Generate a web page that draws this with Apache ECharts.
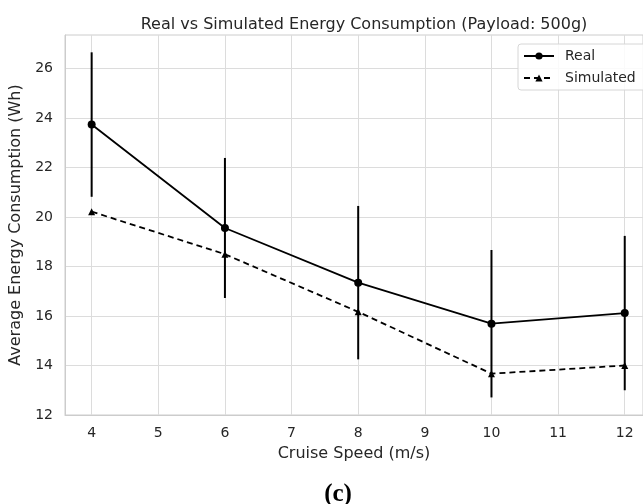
<!DOCTYPE html>
<html>
<head>
<meta charset="utf-8">
<script src="https://cdn.jsdelivr.net/npm/echarts@6/dist/echarts.min.js"></script>
<style>
html,body{margin:0;padding:0;background:#fff;}
#chart{width:643px;height:504px;}
</style>
</head>
<body>
<div id="chart"></div>
<script>
// 数据
const speeds = [4, 6, 8, 10, 12]
const realVals = [23.74, 19.56, 17.35, 15.69, 16.12]
const realErr = [2.92, 2.83, 3.1, 2.98, 3.12]
const simVals = [20.22, 18.5, 16.17, 13.67, 14.0]
const xTicks = [4, 5, 6, 7, 8, 9, 10, 11, 12]
const yTicks = [12, 14, 16, 18, 20, 22, 24, 26]

const txt = '#262626'
const font = 'DejaVu Sans'

let mycharts = echarts.init(document.getElementById('chart'))

let realData = speeds.map((s, i) => [s, realVals[i]])
let simData = speeds.map((s, i) => [s, simVals[i]])
let errData = speeds.map((s, i) => [s, realVals[i] - realErr[i], realVals[i] + realErr[i]])

let options = {
  animation: false,
  textStyle: { fontFamily: font, color: txt },
  title: [
    {
      text: 'Real vs Simulated Energy Consumption (Payload: 500g)',
      left: 359, top: 12, textAlign: 'center',
      textStyle: { fontFamily: font, fontSize: 16, fontWeight: 'normal', color: txt }
    },
    {
      text: '(c)',
      left: 333, top: 477, textAlign: 'center',
      textStyle: { fontFamily: 'Liberation Serif', fontSize: 25, fontWeight: 'bold', color: '#000' }
    }
  ],
  legend: {
    left: 518, top: 44,
    orient: 'vertical',
    data: ['Real', 'Simulated'],
    itemWidth: 30, itemHeight: 9, itemGap: 8,
    padding: [5, 12, 5, 5],
    backgroundColor: 'rgba(255,255,255,0.85)',
    borderColor: '#d6d6d6', borderWidth: 1, borderRadius: 3,
    textStyle: { fontFamily: font, fontSize: 14, color: txt, padding: [0, 0, 0, 6] }
  },
  grid: {
    left: 65, top: 35, width: 579, bottom: 89,
    show: true, borderColor: '#cccccc', borderWidth: 1,
    containLabel: false
  },
  xAxis: {
    type: 'value', min: 3.6, max: 12.274,
    name: 'Cruise Speed (m/s)', nameLocation: 'middle', nameGap: 31,
    nameTextStyle: { fontFamily: font, fontSize: 16, color: txt },
    axisLine: { show: true, lineStyle: { color: '#cccccc', width: 1 } },
    axisTick: { show: false, customValues: xTicks },
    axisLabel: { customValues: xTicks, margin: 11, fontFamily: font, fontSize: 14, color: txt },
    splitLine: { show: true, lineStyle: { color: '#dcdcdc', width: 1 } }
  },
  yAxis: {
    type: 'value', min: 12, max: 27.36,
    name: 'Average Energy Consumption (Wh)', nameLocation: 'middle', nameGap: 34,
    nameTextStyle: { fontFamily: font, fontSize: 16, color: txt },
    axisLine: { show: true, lineStyle: { color: '#cccccc', width: 1 } },
    axisTick: { show: false, customValues: yTicks },
    axisLabel: { customValues: yTicks, margin: 12, fontFamily: font, fontSize: 14, color: txt },
    splitLine: { show: true, lineStyle: { color: '#dcdcdc', width: 1 } }
  },
  series: [
    {
      name: 'Real', type: 'line', data: realData,
      symbol: 'circle', symbolSize: 8,
      lineStyle: { color: '#000', width: 1.8 },
      itemStyle: { color: '#000' },
      z: 3
    },
    {
      name: 'Simulated', type: 'line', data: simData,
      symbol: 'triangle', symbolSize: 7,
      lineStyle: { color: '#000', width: 1.8, type: [6, 4] },
      itemStyle: { color: '#000' },
      z: 3
    },
    {
      name: 'err', type: 'custom', data: errData,
      renderItem: (params, api) => {
        let p1 = api.coord([api.value(0), api.value(1)])
        let p2 = api.coord([api.value(0), api.value(2)])
        return {
          type: 'line',
          shape: { x1: p1[0], y1: p1[1], x2: p2[0], y2: p2[1] },
          style: { stroke: '#000', lineWidth: 2 }
        }
      },
      z: 4
    }
  ]
}
mycharts.setOption(options, true)
</script>
</body>
</html>
